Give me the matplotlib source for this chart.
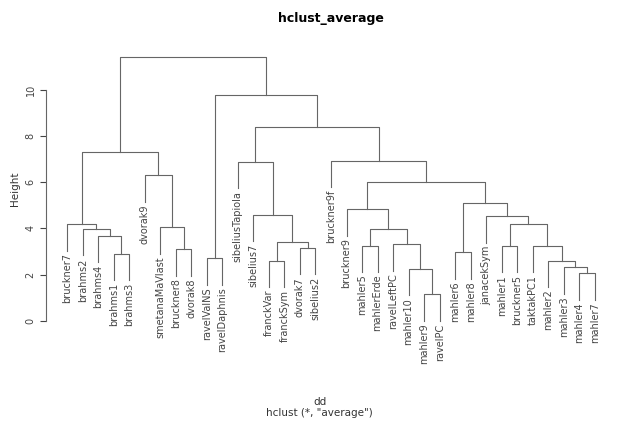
import matplotlib
matplotlib.use("Agg")
import matplotlib.pyplot as plt

labels = ["bruckner7", "brahms2", "brahms4", "brahms1", "brahms3", "dvorak9",
          "smetanaMaVlast", "bruckner8", "dvorak8", "ravelValNS", "ravelDaphnis",
          "sibeliusTapiola", "sibelius7", "franckVar", "franckSym", "dvorak7",
          "sibelius2", "bruckner9f", "bruckner9", "mahler5", "mahlerErde",
          "ravelLeftPC", "mahler10", "mahler9", "ravelPC", "mahler6", "mahler8",
          "janacekSym", "mahler1", "bruckner5", "taktakPC1", "mahler2", "mahler3",
          "mahler4", "mahler7"]

# merges: (left, right, height); strings = leaves, ints = earlier merge index
merges = [
    ("brahms1", "brahms3", 2.89),        # 0
    ("brahms4", 0, 3.68),                # 1
    ("brahms2", 1, 3.97),                # 2
    ("bruckner7", 2, 4.18),              # 3
    ("bruckner8", "dvorak8", 3.10),      # 4
    ("smetanaMaVlast", 4, 4.05),         # 5
    ("dvorak9", 5, 6.29),                # 6
    (3, 6, 7.30),                        # 7
    ("ravelValNS", "ravelDaphnis", 2.71),# 8
    ("franckVar", "franckSym", 2.61),    # 9
    ("dvorak7", "sibelius2", 3.15),      # 10
    (9, 10, 3.41),                       # 11
    ("sibelius7", 11, 4.59),             # 12
    ("sibeliusTapiola", 12, 6.87),       # 13
    ("mahler5", "mahlerErde", 3.26),     # 14
    ("mahler9", "ravelPC", 1.15),        # 15
    ("mahler10", 15, 2.24),              # 16
    ("ravelLeftPC", 16, 3.32),           # 17
    (14, 17, 3.97),                      # 18
    ("bruckner9", 18, 4.83),             # 19
    ("mahler6", "mahler8", 2.96),        # 20
    ("mahler1", "bruckner5", 3.25),      # 21
    ("mahler4", "mahler7", 2.06),        # 22
    ("mahler3", 22, 2.32),               # 23
    ("mahler2", 23, 2.61),               # 24
    ("taktakPC1", 24, 3.25),             # 25
    (21, 25, 4.21),                      # 26
    ("janacekSym", 26, 4.53),            # 27
    (20, 27, 5.11),                      # 28
    (19, 28, 6.00),                      # 29
    ("bruckner9f", 29, 6.93),            # 30
    (13, 30, 8.38),                      # 31
    (8, 31, 9.75),                       # 32
    (7, 32, 11.42),                      # 33
]

hang = 0.1 * max(m[2] for m in merges)
col = "#666666"

fig = plt.figure(figsize=(6.39, 4.24), dpi=100)
ax = fig.add_axes([0.072, 0.216, 0.892, 0.676])

pos = {}
def node(n, parent_h):
    if isinstance(n, str):
        x = labels.index(n) + 1
        y = parent_h - hang
        ax.text(x, y - 0.12, n, rotation=90, ha="center", va="top",
                fontsize=7, color="#444444")
        return x, y
    return pos[n]

for i, (a, b, h) in enumerate(merges):
    xa, ya = node(a, h)
    xb, yb = node(b, h)
    ax.plot([xa, xa, xb, xb], [ya, h, h, yb], color=col, lw=0.8)
    pos[i] = ((xa + xb) / 2, h)

ax.set_xlim(1 - 0.04 * 34, 35 + 0.04 * 34)
ax.set_ylim(-0.5, 11.9)
for s in ["top", "right", "bottom"]:
    ax.spines[s].set_visible(False)
ax.spines["left"].set_color(col)
ax.spines["left"].set_bounds(0, 10)
ax.set_xticks([])
ax.set_yticks([0, 2, 4, 6, 8, 10])
ax.tick_params(axis="y", labelsize=7, colors="#444444", labelrotation=90, length=4)
for t in ax.get_yticklabels():
    t.set_va("center")
ax.set_ylabel("Height", fontsize=7.5, color="#333333")
ax.set_title("hclust_average", fontsize=9, fontweight="bold", pad=17)
fig.text(0.5, 0.045, "dd", ha="center", fontsize=7.5, color="#333333")
fig.text(0.5, 0.02, 'hclust (*, "average")', ha="center", fontsize=7.5, color="#333333")
fig.savefig("out.png", dpi=100)
